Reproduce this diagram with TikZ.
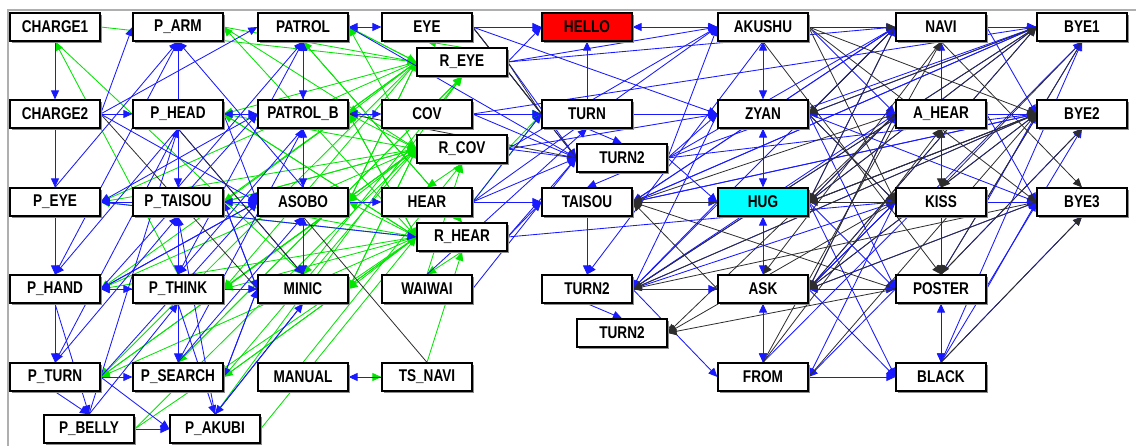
\documentclass[tikz,border=0pt]{standalone}
\usepackage{fontspec}
\newfontfamily\lblfont[FakeStretch=0.8]{Liberation Sans}
\usetikzlibrary{arrows.meta,backgrounds,shadows}
\definecolor{eblue}{RGB}{25,25,255}
\definecolor{egreen}{RGB}{0,230,0}
\definecolor{edark}{RGB}{45,45,45}
\definecolor{framec}{RGB}{175,175,175}
\definecolor{hellored}{RGB}{255,0,0}
\definecolor{hugcyan}{RGB}{0,255,255}
\tikzset{
  box/.style={draw=black, line width=1.2pt, fill=white, minimum width=90pt, minimum height=28pt,
    inner sep=0pt, font=\lblfont\bfseries\fontsize{17}{17}\selectfont,
    drop shadow={shadow xshift=1.6pt, shadow yshift=-1.6pt, fill=black!45, opacity=1}},
  bl/.style={draw=eblue, line width=0.85pt, ->},
  bd/.style={draw=eblue, line width=0.85pt, <->},
  gr/.style={draw=egreen, line width=0.85pt, ->},
  dk/.style={draw=edark, line width=0.8pt, ->},
  dl/.style={draw=edark, line width=0.8pt},
  framel/.style={draw=framec, line width=2.5pt}
}
% connector between side midpoints, side chosen by direction
\newcommand\cnx[3]{%
  \pgfpointanchor{#2}{center}\pgfgetlastxy{\cxa}{\cya}%
  \pgfpointanchor{#3}{center}\pgfgetlastxy{\cxb}{\cyb}%
  \pgfmathparse{abs(\cxb-\cxa)>abs(\cyb-\cya)?1:0}%
  \ifdim\pgfmathresult pt>0.5pt
    \ifdim\cxb>\cxa \def\anA{east}\def\anB{west}\else\def\anA{west}\def\anB{east}\fi
  \else
    \ifdim\cyb>\cya \def\anA{north}\def\anB{south}\else\def\anA{south}\def\anB{north}\fi
  \fi
  \draw[#1] (#2.\anA) -- (#3.\anB);%
}
\begin{document}
\begin{tikzpicture}[x=1pt, y=-1pt, >={Triangle[length=9pt,width=8pt]}]
\useasboundingbox (0,0) rectangle (1136,446);
% nodes
\node[box] (c1) at (55,27) {CHARGE1};
\node[box] (parm) at (178,27) {P\_ARM};
\node[box] (pat) at (303,27) {PATROL};
\node[box] (eye) at (427,27) {EYE};
\node[box, fill=hellored] (hello) at (587,27) {HELLO};
\node[box] (aku) at (763,27) {AKUSHU};
\node[box] (navi) at (941,27) {NAVI};
\node[box] (bye1) at (1082,27) {BYE1};
\node[box] (reye) at (462,62) {R\_EYE};
\node[box] (c2) at (55,114) {CHARGE2};
\node[box] (phead) at (178,114) {P\_HEAD};
\node[box] (patb) at (303,114) {PATROL\_B};
\node[box] (cov) at (427,114) {COV};
\node[box] (turn) at (587,114) {TURN};
\node[box] (zyan) at (763,114) {ZYAN};
\node[box] (ahear) at (941,114) {A\_HEAR};
\node[box] (bye2) at (1082,114) {BYE2};
\node[box] (rcov) at (462,149) {R\_COV};
\node[box] (turnA) at (622,158) {TURN2};
\node[box] (peye) at (55,202) {P\_EYE};
\node[box] (ptai) at (178,202) {P\_TAISOU};
\node[box] (asobo) at (303,202) {ASOBO};
\node[box] (hear) at (427,202) {HEAR};
\node[box] (taisou) at (587,202) {TAISOU};
\node[box, fill=hugcyan] (hug) at (763,202) {HUG};
\node[box] (kiss) at (941,202) {KISS};
\node[box] (bye3) at (1082,202) {BYE3};
\node[box] (rhear) at (462,237) {R\_HEAR};
\node[box] (phand) at (55,289) {P\_HAND};
\node[box] (pthink) at (178,289) {P\_THINK};
\node[box] (minic) at (303,289) {MINIC};
\node[box] (waiwai) at (427,289) {WAIWAI};
\node[box] (turnB) at (587,289) {TURN2};
\node[box] (ask) at (763,289) {ASK};
\node[box] (poster) at (941,289) {POSTER};
\node[box] (turnC) at (622,333) {TURN2};
\node[box] (pturn) at (55,377) {P\_TURN};
\node[box] (psearch) at (178,377) {P\_SEARCH};
\node[box] (manual) at (303,377) {MANUAL};
\node[box] (tsnavi) at (427,377) {TS\_NAVI};
\node[box] (from) at (763,377) {FROM};
\node[box] (black) at (941,377) {BLACK};
\node[box] (pbelly) at (89,429) {P\_BELLY};
\node[box] (pakubi) at (215,429) {P\_AKUBI};
\begin{scope}[on background layer]
\fill[white] (0,0) rectangle (1136,446);
\coordinate (fa) at (8,446);
\coordinate (fb) at (8,10);
\coordinate (fc) at (1136,10);
\draw[framel] (fa) -- (fb) -- (fc);
% green edges
\foreach \a/\b in {reye/pat, reye/phead, reye/patb, reye/peye, reye/ptai, reye/asobo, reye/phand, reye/pthink, reye/minic, reye/pturn, reye/psearch, reye/eye,
  rcov/pat, rcov/patb, rcov/phead, rcov/ptai, rcov/asobo, rcov/peye, rcov/phand, rcov/pthink, rcov/minic, rcov/pturn, rcov/psearch, rcov/turn, rcov/hear,
  rhear/pat, rhear/patb, rhear/phead, rhear/ptai, rhear/asobo, rhear/peye, rhear/phand, rhear/pthink, rhear/minic, rhear/psearch, rhear/pturn, rhear/waiwai, rhear/parm,
  c1/reye, c1/minic, pthink/c1, parm/reye, pat/reye, parm/rcov, pat/rhear, cov/turn, hear/turn, manual/tsnavi, tsnavi/rhear, pakubi/rhear, pbelly/rcov, psearch/reye,
  manual/rcov, pakubi/reye, pbelly/rhear, minic/rcov, asobo/reye, patb/rhear, ptai/rcov, phead/rhear, waiwai/rcov, pturn/rcov, psearch/rhear}
  {\cnx{gr}{\a}{\b}}
% blue edges, left cluster
\foreach \a/\b in {c1/c2, c2/peye, c2/phead, c2/pat, c2/parm, c2/asobo, peye/parm, peye/phand, ptai/peye, patb/peye, asobo/peye,
  phead/parm, ptai/parm, pthink/parm, phand/parm, asobo/parm, phead/ptai, asobo/pat, minic/pat, ptai/pat, pthink/pat,
  asobo/hear, pthink/minic, phand/pturn, pturn/psearch, pturn/pbelly, pbelly/pakubi, pthink/psearch, pthink/pakubi, minic/pakubi, minic/psearch,
  tsnavi/manual, phand/pbelly, pturn/pakubi, pbelly/pthink, psearch/ptai, minic/phand, asobo/phand, patb/pthink, ptai/pthink, phead/phand,
  phead/minic, phead/asobo, ptai/minic, psearch/asobo, pbelly/phead, pakubi/ptai, psearch/patb, phand/asobo, pturn/ptai, pturn/asobo, phead/pturn,
  pakubi/minic, psearch/minic, phand/patb, minic/ptai,
  eye/hello, reye/hello, eye/turnA, cov/turn, cov/turnA, hear/taisou, reye/aku, rcov/aku, cov/zyan, hear/turn, eye/zyan, reye/turnA, rcov/turnA,
  hear/aku, waiwai/turn, rhear/kiss, rhear/turnA, pat/turnA, reye/navi, cov/bye1, rcov/zyan, hear/turnA, rhear/taisou, waiwai/turnA, peye/rhear}
  {\cnx{bl}{\a}{\b}}
\foreach \a/\b in {phead/patb, pat/patb, patb/asobo, pat/eye, patb/cov, ptai/asobo, phand/pthink, minic/asobo}
  {\cnx{bd}{\a}{\b}}
% blue edges, right cluster
\foreach \a/\b in {hello/aku, aku/zyan, zyan/hug, hug/ask, ask/from, black/poster, ask/poster, hug/kiss, taisou/hug, zyan/ahear}
  {\cnx{bd}{\a}{\b}}
\foreach \a/\b in {turn/hello, from/black, ahear/navi, kiss/ahear, kiss/poster, turn/zyan, navi/bye1, ahear/bye2, kiss/bye3,
  turnB/ask, turnB/turnC, turnB/from, turnB/poster,
  navi/turnB, ahear/turnB, kiss/turnB, bye1/turnB, bye2/turnB, zyan/turnB, hug/turnB, aku/turnB,
  bye1/taisou, bye2/taisou, navi/taisou,
  aku/bye1, zyan/bye1, hug/bye1, taisou/bye1, ask/bye1, poster/bye1, black/bye1, turnA/bye1, from/bye1,
  zyan/bye2, hug/bye2, kiss/bye2, ask/bye2, poster/bye2, black/bye2, turnA/bye2, taisou/bye2, navi/bye2,
  hug/bye3, ahear/bye3, ask/bye3, poster/bye3, black/bye3, zyan/bye3, taisou/bye3,
  zyan/navi, hug/navi, taisou/navi, turnA/navi, hug/ahear, ask/ahear, aku/ahear, zyan/kiss, ask/kiss,
  hug/poster, zyan/poster, ask/black, hug/black, kiss/black, hug/from, kiss/from, poster/from, kiss/ask,
  eye/aku, turnA/aku, turnA/taisou, taisou/turnB, turn/turnA, turnA/zyan, turnA/hug}
  {\cnx{bl}{\a}{\b}}
% dark edges
\foreach \a/\b in {aku/navi, aku/bye2, aku/bye3, navi/bye3, navi/kiss, navi/hug, navi/zyan, ahear/taisou, navi/ask,
  aku/kiss, kiss/turnC, poster/turnC, ahear/turnC, hug/bye2, ask/bye1, black/bye3, from/bye2, poster/bye2,
  ahear/ask, ahear/hug, bye2/hug, bye1/hug, aku/poster, zyan/kiss, bye1/zyan, bye1/kiss, bye2/ask, bye3/ask,
  bye1/poster, navi/poster, kiss/taisou, poster/taisou, ask/taisou, bye2/turnB, bye3/turnB, turnB/bye1, black/ahear, from/navi, from/ahear}
  {\cnx{dk}{\a}{\b}}
\foreach \a/\b in {eye/turnA, reye/turn, asobo/tsnavi, c2/minic, phead/minic, eye/turn, patb/turnA}
  {\cnx{dl}{\a}{\b}}
\end{scope}
\end{tikzpicture}
\end{document}
